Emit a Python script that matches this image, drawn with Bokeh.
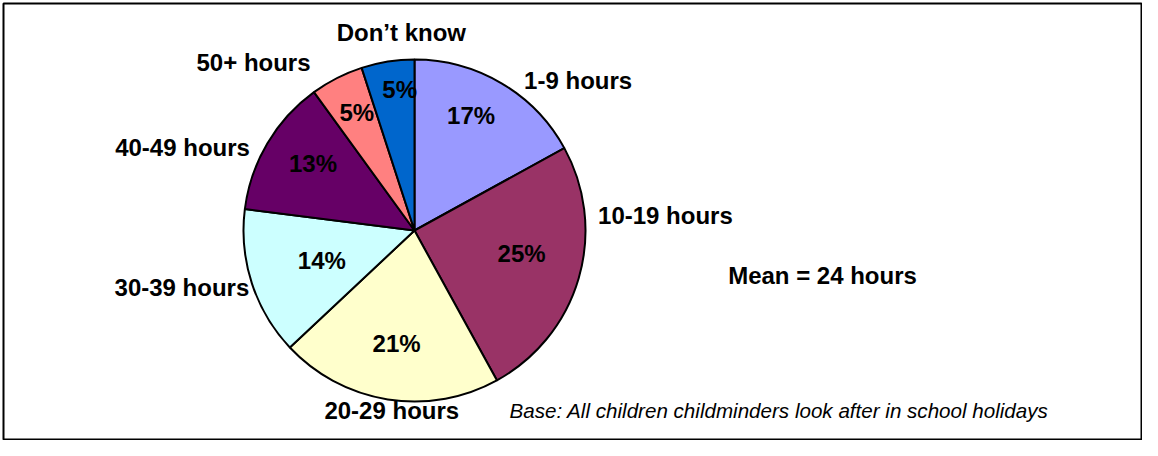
import math
from bokeh.plotting import figure
from bokeh.models import Range1d, ColumnDataSource
from bokeh.core.properties import value
from bokeh.embed import file_html
from bokeh.resources import INLINE

# ---- data ----
categories = ["1-9 hours", "10-19 hours", "20-29 hours", "30-39 hours",
              "40-49 hours", "50+ hours", "Don\u2019t know"]
shares = [17, 25, 21, 14, 13, 5, 5]
colors = ["#9999FF", "#993366", "#FFFFCC", "#CCFFFF", "#660066", "#FF8080", "#0066CC"]
mean_text = "Mean = 24 hours"
base_text = "Base: All children childminders look after in school holidays"

# ---- layout (label placement relative to each slice's mid-angle) ----
pct_nudge_deg = [4.4, 4.2, 0.0, 0.0, -2.7, -1.0, -3.0]
pct_radius_frac = [0.75, 0.64, 0.67, 0.57, 0.71, 0.77, 0.83]
cat_nudge_deg = [-16.8, 19.6, 1.8, -4.3, 11.0, 16.8, -5.2]
cat_radius_frac = [1.30, 1.47, 1.06, 1.40, 1.44, 1.36, 1.16]

W, H = 1142, 440
INSET = 3
PAGE_H = 456


def py(page_y):
    return PAGE_H - page_y


CX, CY, R = 414, py(230), 171

p = figure(width=W, height=H, output_backend="svg", toolbar_location=None,
           x_range=Range1d(INSET, W), y_range=Range1d(PAGE_H - H, PAGE_H - INSET),
           x_axis_type=None, y_axis_type=None,
           min_border_left=INSET, min_border_top=INSET, min_border_right=0, min_border_bottom=0,
           background_fill_color="white", border_fill_color="white")
p.grid.visible = False
p.outline_line_color = "black"
p.outline_line_width = 2

total = float(sum(shares))
starts, ends, mids = [], [], []
cum = 0.0
for s in shares:
    a_end = math.pi / 2 - cum / total * 2 * math.pi
    cum += s
    a_start = math.pi / 2 - cum / total * 2 * math.pi
    starts.append(a_start)
    ends.append(a_end)
    mids.append((a_start + a_end) / 2)

src = ColumnDataSource(dict(start=starts, end=ends, color=colors, cat=categories, val=shares))
p.wedge(x=CX, y=CY, radius=R, start_angle="start", end_angle="end", fill_color="color",
        line_color="black", line_width=2, source=src)

font = value("Liberation Sans")

# percentage labels
px, pyy, ptxt = [], [], []
for i, s in enumerate(shares):
    a = mids[i] + math.radians(pct_nudge_deg[i])
    r = R * pct_radius_frac[i]
    px.append(CX + r * math.cos(a))
    pyy.append(CY + r * math.sin(a))
    ptxt.append(f"{s}%")
p.text(x=px, y=pyy, text=ptxt, text_font=font, text_font_style="bold",
       text_font_size="24px", text_align="center", text_baseline="middle", text_color="black")

# category labels
cx_, cy_ = [], []
for i in range(len(categories)):
    a = mids[i] + math.radians(cat_nudge_deg[i])
    r = R * cat_radius_frac[i]
    cx_.append(CX + r * math.cos(a))
    cy_.append(CY + r * math.sin(a))
p.text(x=cx_, y=cy_, text=categories, text_font=font, text_font_style="bold",
       text_font_size="24px", text_align="center", text_baseline="middle", text_color="black")

# annotations
p.text(x=[822], y=[py(275)], text=[mean_text], text_font=font, text_font_style="bold",
       text_font_size="24px", text_align="center", text_baseline="middle", text_color="black")
p.text(x=[509], y=[py(410)], text=[base_text], text_font=font, text_font_style="italic",
       text_font_size="20.6px", text_align="left", text_baseline="middle", text_color="black")

open("out.html", "w").write(file_html(p, INLINE))
